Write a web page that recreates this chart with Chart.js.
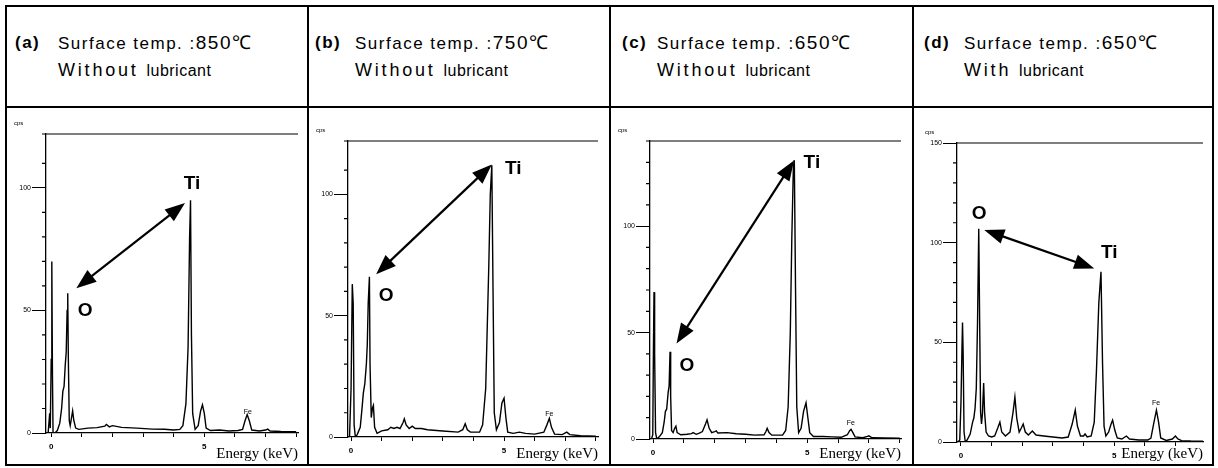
<!DOCTYPE html>
<html>
<head>
<meta charset="utf-8">
<script src="https://cdn.jsdelivr.net/npm/chart.js@4.4.0/dist/chart.umd.min.js"></script>
<style>
  body { margin: 0; width: 1218px; height: 468px; background: #fff; position: relative; overflow: hidden;
         font-family: "Liberation Sans", Arial, sans-serif; color: #000; }
  .frame { position: absolute; left: 5px; top: 5px; width: 1209px; height: 461px; border: 2px solid #000; box-sizing: border-box; }
  .hline { position: absolute; left: 5px; top: 106px; width: 1209px; height: 2px; background: #000; }
  .vline { position: absolute; top: 5px; width: 2px; height: 461px; background: #000; }
  .tag { position: absolute; top: 33px; font-weight: bold; font-size: 17px; line-height: 20px; letter-spacing: 1.5px; }
  .l1 { position: absolute; top: 33px; font-size: 17px; line-height: 20px; letter-spacing: 1.5px; white-space: nowrap; }
  .l1 .t { font-size: 19px; letter-spacing: 1.5px; }
  .l2 { position: absolute; top: 60px; font-size: 18px; line-height: 20px; letter-spacing: 2.8px; white-space: nowrap; }
  .l2 .s { font-size: 16px; letter-spacing: 0.5px; }
  .plot { position: absolute; top: 110px; height: 354px; }
</style>
</head>
<body>
<div class="frame"></div>
<div class="hline"></div>
<div class="vline" style="left:307px"></div>
<div class="vline" style="left:609px"></div>
<div class="vline" style="left:912px"></div>
<div id="heads"></div>
<div id="plots"></div>

<script>
// header texts
const panelTags = ['(a)', '(b)', '(c)', '(d)'];
const surfaceTemps = ['850', '750', '650', '650'];
const lubeStates = ['Without', 'Without', 'Without', 'With'];

// axis ranges (keV, cps)
const energyMin = [-0.17, -0.1, -0.1, -0.13];
const energyMax = [8.06, 8.07, 8.04, 7.9];
const cpsMax = [122, 122, 140, 150];

// spectra, [energy keV, counts cps]
const spectrumA = [
  [-0.1, 0], [-0.05, 8], [-0.03, 2], [0.0, 30], [0.02, 70], [0.04, 25], [0.06, 0], [0.12, 0],
  [0.2, 1], [0.28, 4], [0.34, 10], [0.38, 17], [0.42, 19], [0.46, 28], [0.49, 33], [0.52, 50],
  [0.54, 57], [0.56, 30], [0.59, 5], [0.62, 3], [0.66, 6], [0.7, 9], [0.74, 5], [0.8, 2],
  [0.9, 1.5], [1.2, 2], [1.5, 2.2], [1.75, 2.8], [1.8, 3.5], [1.9, 2.5], [2.0, 3], [2.3, 2.3],
  [2.8, 2], [3.3, 1.6], [3.7, 1.5], [4.0, 1.2], [4.2, 1.5], [4.3, 3], [4.4, 12], [4.47, 35],
  [4.52, 80], [4.55, 95], [4.58, 40], [4.62, 8], [4.7, 1.5], [4.8, 3], [4.88, 9], [4.94, 11.5],
  [5.0, 8], [5.06, 2], [5.2, 1], [5.5, 1.2], [5.8, 0.8], [6.1, 1], [6.25, 1.5], [6.33, 5],
  [6.4, 7.5], [6.47, 5], [6.55, 1.2], [6.8, 0.8], [7.0, 1.2], [7.07, 1.6], [7.15, 0.8], [7.5, 0.6], [8.0, 0.5]
];
const spectrumB = [
  [-0.05, 0], [0.0, 20], [0.04, 63], [0.07, 55], [0.1, 5], [0.14, 0], [0.2, 1], [0.3, 4],
  [0.36, 12], [0.4, 18], [0.45, 22], [0.5, 30], [0.53, 38], [0.56, 55], [0.6, 66], [0.62, 30],
  [0.66, 8], [0.7, 12], [0.73, 13], [0.77, 4], [0.85, 1.5], [1.0, 2.5], [1.2, 3], [1.3, 4],
  [1.4, 3.5], [1.5, 4], [1.6, 3.5], [1.7, 6], [1.74, 7.5], [1.8, 5], [1.9, 3.5], [2.0, 4.5],
  [2.1, 3.5], [2.3, 3.5], [2.5, 3], [3.0, 2.5], [3.5, 2], [3.65, 3], [3.73, 5.5], [3.8, 3],
  [3.9, 2], [4.2, 2], [4.3, 5], [4.4, 20], [4.5, 70], [4.55, 100], [4.6, 112], [4.64, 60],
  [4.68, 10], [4.75, 3], [4.85, 6], [4.93, 14], [5.0, 16], [5.06, 8], [5.12, 2], [5.3, 1.5],
  [5.5, 2], [5.7, 1.5], [6.0, 1.2], [6.3, 2], [6.4, 5], [6.48, 7.7], [6.55, 4], [6.65, 1.2],
  [6.9, 1], [7.05, 2], [7.15, 1], [7.5, 0.5], [8.0, 0.3]
];
const spectrumC = [
  [-0.05, 0], [-0.01, 2], [0.01, 40], [0.03, 69], [0.05, 40], [0.08, 3], [0.12, 0], [0.2, 1],
  [0.3, 3], [0.36, 8], [0.4, 13], [0.44, 14], [0.49, 22], [0.52, 25], [0.55, 41], [0.57, 20],
  [0.6, 4], [0.65, 3], [0.7, 5], [0.74, 6], [0.78, 3], [0.9, 2], [1.1, 2.2], [1.25, 2.5],
  [1.3, 3], [1.4, 2.2], [1.5, 2.8], [1.6, 3.5], [1.7, 7], [1.75, 9], [1.82, 5], [1.9, 3],
  [2.0, 3.5], [2.05, 3.8], [2.1, 2.8], [2.4, 3], [2.7, 2.5], [3.0, 2.2], [3.3, 1.8], [3.6, 2],
  [3.66, 3.5], [3.7, 5], [3.76, 3], [3.85, 1.8], [4.2, 1.8], [4.3, 4], [4.38, 15], [4.45, 50],
  [4.5, 95], [4.55, 128], [4.58, 131], [4.62, 70], [4.66, 15], [4.72, 3], [4.8, 5], [4.88, 13],
  [4.96, 17], [5.02, 10], [5.08, 3], [5.2, 1.2], [5.5, 1.2], [5.8, 1], [6.1, 0.8], [6.3, 2],
  [6.38, 4], [6.42, 4.5], [6.48, 3], [6.55, 1], [6.8, 0.6], [6.95, 1.2], [7.0, 1.5], [7.1, 0.6],
  [7.5, 0.5], [8.0, 0.4]
];
const spectrumD = [
  [-0.1, 0], [-0.04, 1], [0.0, 20], [0.03, 45], [0.05, 60], [0.07, 45], [0.1, 5], [0.14, 0],
  [0.2, 1], [0.3, 4], [0.38, 10], [0.42, 12], [0.46, 17], [0.5, 27], [0.54, 60], [0.58, 107],
  [0.61, 60], [0.64, 15], [0.67, 9], [0.7, 14], [0.74, 29.6], [0.77, 15], [0.82, 5], [0.9, 3],
  [1.0, 2.5], [1.1, 3], [1.2, 7], [1.27, 10], [1.33, 5], [1.45, 3], [1.6, 5], [1.7, 15],
  [1.76, 22.6], [1.82, 12], [1.9, 5], [1.97, 7], [2.03, 9], [2.1, 5], [2.2, 3.5], [2.33, 5.5],
  [2.45, 3.5], [2.7, 3], [3.0, 2.5], [3.3, 2], [3.5, 2.5], [3.63, 9], [3.73, 16], [3.8, 8],
  [3.9, 3], [4.0, 3], [4.05, 4], [4.12, 2.5], [4.25, 3], [4.35, 10], [4.42, 35], [4.5, 70],
  [4.57, 85.4], [4.62, 40], [4.67, 8], [4.73, 3], [4.82, 5], [4.9, 9], [4.95, 11], [5.02, 6],
  [5.1, 2], [5.25, 1.5], [5.4, 3], [5.5, 1.5], [5.8, 1], [6.1, 1], [6.2, 2], [6.3, 10],
  [6.38, 16], [6.45, 10], [6.52, 2], [6.7, 0.8], [6.9, 1.5], [7.0, 3], [7.08, 1.5], [7.2, 0.7],
  [7.5, 0.5], [7.9, 0.4]
];
const spectra = [spectrumA, spectrumB, spectrumC, spectrumD];

// double arrow O <-> Ti: [keV1, cps1, keV2, cps2]
const arrows = [
  [0.82, 59.1, 4.37, 93.8],
  [0.82, 67.1, 4.6, 112.3],
  [0.76, 44.9, 4.57, 130.8],
  [0.76, 106.4, 4.35, 87.1]
];
// peak labels: [text, keV, cps]
const peakLabels = [
  [['Ti', 4.6, 101.6], ['O', 1.11, 50], ['Fe', 6.42, 8.7]],
  [['Ti', 5.3, 110.7], ['O', 1.15, 58.2], ['Fe', 6.48, 9.6]],
  [['Ti', 5.15, 129.7], ['O', 1.1, 34.4], ['Fe', 6.41, 7.4]],
  [['Ti', 4.84, 95], ['O', 0.59, 114.6], ['Fe', 6.37, 19.6]]
];

// header layout
const tagLeft = [15, 315, 622, 924];
const textLeft = [58, 355, 657, 964];

const heads = document.getElementById('heads');
panelTags.forEach((tag, i) => {
  heads.insertAdjacentHTML('beforeend',
    '<div class="tag" style="left:' + tagLeft[i] + 'px">' + tag + '</div>' +
    '<div class="l1" style="left:' + textLeft[i] + 'px">Surface temp. :<span class="t">' + surfaceTemps[i] + '℃</span></div>' +
    '<div class="l2" style="left:' + textLeft[i] + 'px">' + lubeStates[i] + ' <span class="s">lubricant</span></div>');
});

// plot boxes: canvas left/width, y-axis width, right/top padding, x-axis height
const plotBoxes = [
  { left: 7, width: 299, yW: 39, padR: 8, padT: 24, xH: 31 },
  { left: 310, width: 298, yW: 38, padR: 10, padT: 31, xH: 27 },
  { left: 612, width: 299, yW: 38, padR: 10, padT: 31, xH: 25 },
  { left: 915, width: 297, yW: 42, padR: 9, padT: 33, xH: 22 }
];

function arrowHead(ctx, fx, fy, tx, ty) {
  const ang = Math.atan2(ty - fy, tx - fx), L = 20, W = 7.5;
  const c = Math.cos(ang), s = Math.sin(ang);
  ctx.beginPath();
  ctx.moveTo(tx, ty);
  ctx.lineTo(tx - L * c + W * s, ty - L * s - W * c);
  ctx.lineTo(tx - L * c - W * s, ty - L * s + W * c);
  ctx.closePath();
  ctx.fill();
}

const edsMarks = {
  id: 'edsMarks',
  afterDraw(chart, args, opts) {
    const { ctx, chartArea: a, scales: { x, y } } = chart;
    ctx.save();
    ctx.strokeStyle = '#000';
    ctx.fillStyle = '#000';
    // top frame line
    ctx.lineWidth = 1.2;
    ctx.beginPath();
    const yt = y.getPixelForValue(y.max);
    ctx.moveTo(a.left, yt);
    ctx.lineTo(a.right, yt);
    // minor ticks
    y.ticks.forEach(t => {
      if (t.value % 50 !== 0) {
        const py = y.getPixelForValue(t.value);
        ctx.moveTo(a.left - 4, py);
        ctx.lineTo(a.left, py);
      }
    });
    ctx.stroke();
    ctx.font = '6px "Liberation Sans"';
    ctx.textAlign = 'left';
    ctx.textBaseline = 'middle';
    ctx.fillText('cps', a.left - 32, a.top - 11);

    // double arrow
    const [e1, c1, e2, c2] = opts.arrow;
    const x1 = x.getPixelForValue(e1), y1 = y.getPixelForValue(c1);
    const x2 = x.getPixelForValue(e2), y2 = y.getPixelForValue(c2);
    const len = Math.hypot(x2 - x1, y2 - y1), ux = (x2 - x1) / len, uy = (y2 - y1) / len;
    ctx.lineWidth = 2.2;
    ctx.beginPath();
    ctx.moveTo(x1 + ux * 15, y1 + uy * 15);
    ctx.lineTo(x2 - ux * 15, y2 - uy * 15);
    ctx.stroke();
    arrowHead(ctx, x2, y2, x1, y1);
    arrowHead(ctx, x1, y1, x2, y2);

    // peak labels
    ctx.textAlign = 'center';
    opts.labels.forEach(([txt, e, c]) => {
      ctx.font = txt === 'Fe' ? '7px "Liberation Sans"' : 'bold 19px "Liberation Sans"';
      ctx.fillText(txt, x.getPixelForValue(e), y.getPixelForValue(c));
    });
    ctx.restore();
  }
};

const plots = document.getElementById('plots');
plotBoxes.forEach((b, i) => {
  const wrap = document.createElement('div');
  wrap.className = 'plot';
  wrap.style.left = b.left + 'px';
  wrap.style.width = b.width + 'px';
  const cv = document.createElement('canvas');
  cv.width = b.width;
  cv.height = 354;
  wrap.appendChild(cv);
  plots.appendChild(wrap);

  new Chart(cv, {
    type: 'line',
    data: {
      datasets: [{
        data: spectra[i].map(p => ({ x: p[0], y: p[1] })),
        borderColor: '#000',
        borderWidth: 1.4,
        pointRadius: 0,
        tension: 0,
        fill: false
      }]
    },
    options: {
      responsive: false,
      animation: false,
      devicePixelRatio: 1,
      layout: { autoPadding: false, padding: { left: 0, top: b.padT, right: b.padR, bottom: 0 } },
      plugins: {
        legend: { display: false },
        tooltip: { enabled: false },
        edsMarks: { arrow: arrows[i], labels: peakLabels[i] }
      },
      scales: {
        x: {
          type: 'linear',
          min: energyMin[i],
          max: energyMax[i],
          afterFit: s => { s.height = b.xH; },
          border: { display: true, color: '#000', width: 1.3 },
          grid: { display: true, drawOnChartArea: false, color: '#000', tickLength: 4 },
          ticks: {
            stepSize: 1,
            includeBounds: false,
            autoSkip: false,
            maxRotation: 0,
            padding: 5,
            color: '#000',
            font: { family: '"Liberation Sans"', size: 8, weight: 'bold' },
            callback: v => (v === 0 || v === 5) ? String(v) : ''
          },
          title: {
            display: true,
            text: 'Energy (keV)',
            align: 'end',
            color: '#000',
            font: { family: '"Liberation Serif"', size: 15 },
            padding: { top: 0, bottom: 1 }
          }
        },
        y: {
          min: 0,
          max: cpsMax[i],
          afterFit: s => { s.width = b.yW; },
          border: { display: true, color: '#000', width: 1.3 },
          grid: {
            display: true,
            drawOnChartArea: false,
            tickLength: 14,
            tickColor: c => (c.tick && c.tick.value % 50 === 0) ? '#000' : 'rgba(0,0,0,0)'
          },
          ticks: {
            stepSize: 10,
            autoSkip: false,
            padding: 1,
            color: '#000',
            font: { family: '"Liberation Sans"', size: 7 },
            callback: v => v % 50 === 0 ? String(v) : ''
          }
        }
      }
    },
    plugins: [edsMarks]
  });
});
</script>
</body>
</html>
